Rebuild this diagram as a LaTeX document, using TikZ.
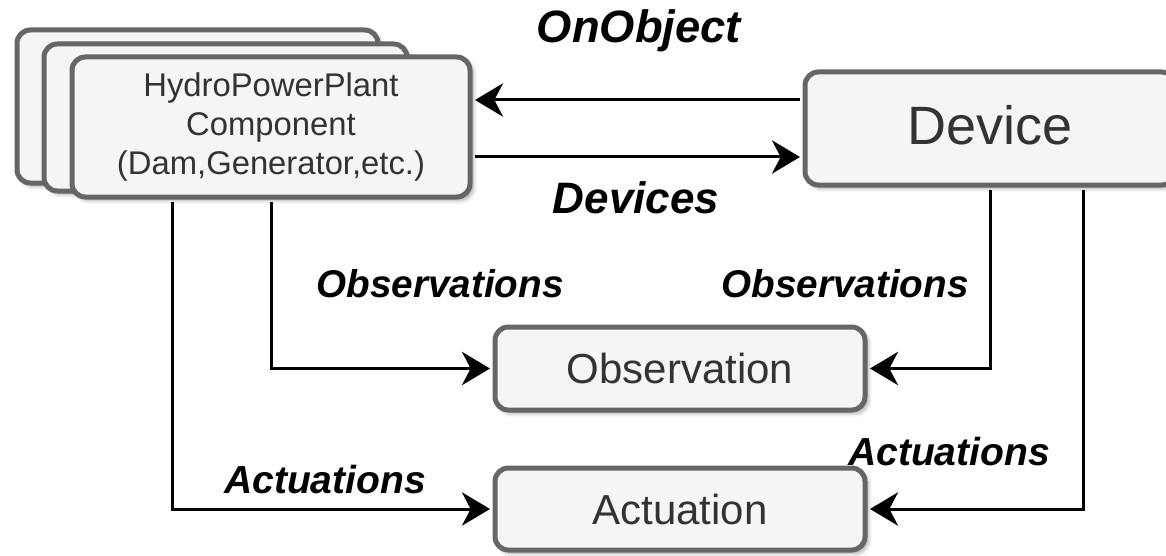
\documentclass[tikz,border=0pt]{standalone}
\usepackage{fontspec}
\setmainfont{Liberation Sans}
\usetikzlibrary{arrows.meta,shadows.blur}
\definecolor{boxfill}{HTML}{F5F5F5}
\definecolor{boxline}{HTML}{666666}
\definecolor{boxtext}{HTML}{333333}

\begin{document}
\begin{tikzpicture}[x=0.75pt,y=-0.75pt,
  box/.style={draw=boxline, fill=boxfill, line width=3.75pt, rounded corners=10pt,
    text=boxtext, inner sep=0pt, align=center,
    blur shadow={shadow xshift=2.5pt, shadow yshift=-2.5pt, shadow blur radius=3pt, shadow opacity=35}},
  link/.style={draw=black, line width=2.25pt, shorten <=1.9pt, shorten >=1.9pt,
    -{Stealth[length=21pt,width=25pt,inset=6.5pt]}},
  rel/.style={text=black, anchor=base, inner sep=0pt}]
\useasboundingbox (0,0) rectangle (1166,556);
\clip (0,0) rectangle (1166,556);

% stacked component boxes
\node[box, minimum width=270.75pt, minimum height=114.75pt] (back) at (197.5,106.5) {};
\node[box, minimum width=272.25pt, minimum height=110.25pt] (mid) at (225.5,117.5) {};
\node[box, minimum width=298.5pt, minimum height=105pt,
      font=\fontsize{24.6pt}{29.6pt}\selectfont] (front) at (271,127)
  {HydroPowerPlant\\Component\\(Dam,Generator,etc.)};

% device, observation and actuation
\node[box, minimum width=277.5pt, minimum height=84.75pt, text depth=6pt,
      font=\fontsize{40.5pt}{48pt}\selectfont] (dev) at (990,128.5) {Device};
\node[box, minimum width=277.5pt, minimum height=62.25pt,
      font=\fontsize{31.5pt}{38pt}\selectfont] (obs) at (680,368.5) {Observation};
\node[box, minimum width=277.5pt, minimum height=61.5pt,
      font=\fontsize{31.5pt}{38pt}\selectfont] (act) at (680,509) {Actuation};

% helper positions for the connectors
\coordinate (yOn) at (0,100);
\coordinate (yDv) at (0,157);
\coordinate (xA) at (172,0);
\coordinate (xB) at (1083,0);

% connectors
\draw[link] (dev.west |- yOn) -- (front.east |- yOn);
\draw[link] (front.east |- yDv) -- (dev.west |- yDv);
\draw[link] (front.south) |- (obs.west);
\draw[link] (front.south -| xA) |- (act.west);
\draw[link] (dev.south) |- (obs.east);
\draw[link] (dev.south -| xB) |- (act.east);

% relation labels
\node[rel, font=\fontsize{34pt}{40pt}\bfseries\itshape] (lOn) at (639,43) {OnObject};
\node[rel, font=\fontsize{33pt}{40pt}\bfseries\itshape] (lDv) at (636,213) {Devices};
\node[rel, font=\fontsize{29pt}{35pt}\bfseries\itshape] (lObsL) at (440,297) {Observations};
\node[rel, font=\fontsize{29pt}{35pt}\bfseries\itshape] (lObsR) at (845,297) {Observations};
\node[rel, font=\fontsize{29.3pt}{35pt}\bfseries\itshape] (lActL) at (325,493) {Actuations};
\node[rel, font=\fontsize{29.3pt}{35pt}\bfseries\itshape] (lActR) at (949,465) {Actuations};
\end{tikzpicture}
\end{document}
